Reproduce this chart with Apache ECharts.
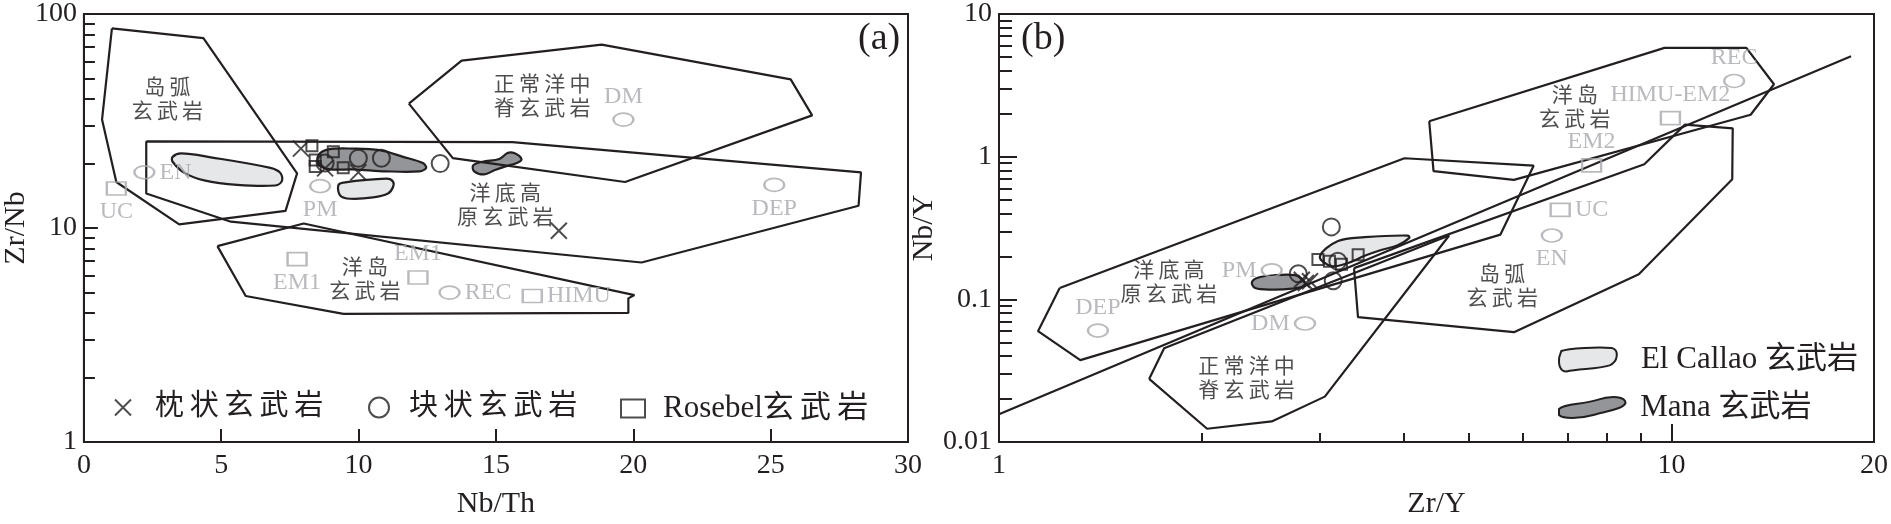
<!DOCTYPE html>
<html><head><meta charset="utf-8">
<script src="https://cdn.jsdelivr.net/npm/echarts@6/dist/echarts.min.js"></script>
<style>html,body{margin:0;padding:0;background:#fff}#c{width:1891px;height:524px}</style>
</head><body><div id="c"></div>
<script>
// ---------- Panel (a): Nb/Th vs Zr/Nb ----------
const A_ISLAND_ARC = [[1.02,85.6],[4.35,77.1],[7.76,18.0],[7.34,12.03],[3.47,10.4],[1.18,16.4],[0.66,32.1]];
const A_OPB = [[2.27,25.4],[15.6,25.2],[28.29,18.2],[28.2,12.7],[20.3,6.9],[5.35,10.7],[2.27,14.5]];
const A_NMORB = [[11.83,38.1],[13.75,60.5],[18.85,71.9],[25.73,49.5],[26.51,33.6],[19.70,16.4],[13.43,21.2]];
const A_OIB = [[4.86,8.23],[8.0,10.5],[20.04,4.86],[19.82,4.69],[19.82,4.01],[9.45,3.97],[5.89,4.81]];
const A_ELCALLAO_1 = [[3.23,21.5],[3.54,22.3],[4.62,21.4],[6.79,19.1],[7.15,18.1],[7.21,16.6],[6.97,15.8],[5.58,15.9],[4.38,16.7],[3.66,18.1],[3.23,20.4]];
const A_ELCALLAO_2 = [[9.26,15.8],[9.45,16.3],[11.01,17.0],[11.25,16.5],[11.25,15.5],[11.07,14.5],[10.53,13.9],[9.69,13.7],[9.33,14.2]];
const A_MANA_1 = [[8.54,21.9],[8.90,23.3],[9.81,23.5],[10.77,23.1],[11.62,21.5],[12.34,20.1],[12.46,19.1],[12.22,18.4],[11.01,18.4],[9.81,18.8],[8.96,18.8],[8.54,19.8]];
const A_MANA_2 = [[14.17,19.6],[14.51,20.4],[15.12,21.0],[15.42,22.4],[15.66,22.4],[15.93,21.0],[15.78,20.2],[15.35,19.4],[14.94,18.6],[14.57,17.8],[14.21,18.4]];
const A_PILLOW = [[7.9,23.5],[8.78,19.0],[9.99,18.2],[17.29,9.7]];
const A_MASSIVE = [[8.78,20.1],[9.99,21.2],[10.83,21.2],[12.97,20.0]];
const A_ROSEBEL = [[8.30,24.2],[8.42,20.8],[8.42,19.4],[9.08,22.7],[9.44,19.1]];
const A_REF_CIRCLE_NAMES = ['EN','PM','DM','DEP','REC'];
const A_REF_CIRCLE = [[2.2,18.2],[8.6,15.7],[19.64,32.1],[25.13,15.9],[13.31,4.99]];
const A_REF_SQUARE_NAMES = ['UC','EM1','EM1','HIMU'];
const A_REF_SQUARE = [[1.18,15.3],[7.76,7.15],[12.16,5.87],[16.32,4.81]];
const A_FIELD_NAMES = ['岛弧\n玄武岩','正常洋中\n脊玄武岩','洋底高\n原玄武岩','洋岛\n玄武岩'];
const A_FIELD_POS = [[3.04,39.6],[16.68,40.9],[15.34,12.6],[10.23,5.68]];
const A_X_LABELS = [0,5,10,15,20,25,30];
const A_Y_LABELS = [1,10,100];

// ---------- Panel (b): Zr/Y vs Nb/Y ----------
const B_OPB = [[1.231,0.1199],[4.007,0.975],[6.237,0.865],[5.567,0.2844],[1.321,0.0375],[1.143,0.0598]];
const B_OIB = [[4.362,1.772],[9.761,5.793],[12.92,5.793],[14.20,3.218],[13.11,1.966],[5.828,0.6875],[4.427,0.791]];
const B_IAB = [[3.372,0.1655],[9.11,0.885],[10.47,1.677],[12.33,1.58],[12.31,0.695],[8.94,0.150],[5.83,0.0589],[3.418,0.0751]];
const B_NMORB = [[1.672,0.02768],[1.760,0.0454],[4.67,0.280],[3.051,0.0208],[2.544,0.01394],[2.039,0.01238]];
const B_LINE = [[1,0.01565],[18.49,5.06]];
const B_ELCALLAO = [[3.0,0.1996],[3.192,0.2562],[3.497,0.2727],[4.052,0.280],[4.075,0.2698],[3.916,0.2395],[3.70,0.2216],[3.497,0.2018],[3.304,0.1798],[3.12,0.1708]];
const B_MANA = [[2.377,0.1316],[2.431,0.1423],[2.574,0.1477],[2.755,0.1477],[2.818,0.1388],[2.851,0.125],[2.724,0.1187],[2.544,0.1169],[2.404,0.1199]];
const B_PILLOW = [[2.82,0.137],[2.86,0.130],[2.90,0.134]];
const B_MASSIVE = [[2.786,0.151],[3.19,0.185],[3.14,0.135],[3.12,0.322]];
const B_ROSEBEL = [[2.98,0.190],[3.10,0.185],[3.42,0.205],[3.23,0.176]];
const B_REF_CIRCLE_NAMES = ['REC','EN','PM','DEP','DM'];
const B_REF_CIRCLE = [[12.39,3.395],[6.637,0.280],[2.544,0.1597],[1.403,0.0604],[2.851,0.0677]];
const B_REF_SQUARE_NAMES = ['HIMU-EM2','EM2','UC'];
const B_REF_SQUARE = [[9.96,1.865],[7.606,0.8687],[6.83,0.4239]];
const B_FIELD_NAMES = ['洋岛\n玄武岩','岛弧\n玄武岩','洋底高\n原玄武岩','正常洋中\n脊玄武岩'];
const B_FIELD_POS = [[7.18,2.17],[5.60,0.1212],[1.789,0.129],[2.334,0.02755]];
const B_X_LABELS = [1,10,20];
const B_Y_LABELS = [0.01,0.1,1,10];

// ---------- styles ----------
const INK = '#231f20', GREY = '#a7a9ac', LIGHT = '#e6e7e8', DARK = '#939598';
const FONT = "'Liberation Serif','Noto Sans CJK SC',serif";
const LABEL_POS = {
  a: {EN:'right',PM:'bottom',DM:'top',DEP:'bottom',REC:'right',UC:'bottom',HIMU:'right'},
  b: {REC:'top',EN:'bottom',PM:'left',DEP:'top',DM:'left','HIMU-EM2':'top',EM2:'top',UC:'right'}
};
const minorLog = (lo, hi) => { const r=[]; for(let d=lo; d<hi*0.999; d*=10) for(let k=2;k<=9;k++) r.push(+(d*k).toPrecision(3)); return r; };
const fmt = v => String(+(+v).toPrecision(3));
// spread CJK characters a little, as in the original typesetting
const spread = s => s.replace(/([\u4e00-\u9fff])(?=[\u4e00-\u9fff])/g, '$1\u2009');

function outline(pts, xi, yi) {
  return {type:'line', xAxisIndex:xi, yAxisIndex:yi, data:pts.concat([pts[0]]), symbol:'none', silent:true,
    lineStyle:{color:INK, width:2.2}, z:3, animation:false};
}
function blob(name, pts, xi, yi, fill) {
  return {type:'custom', name, xAxisIndex:xi, yAxisIndex:yi, data:[pts[0]], silent:true, clip:false, z:2,
    itemStyle:{color:fill, borderColor:INK, borderWidth:2},
    renderItem:(p, api) => ({type:'polygon', shape:{points:pts.map(q=>api.coord(q)), smooth:0.35},
      style:{fill, stroke:INK, lineWidth:2.2}}), animation:false};
}
function pts(name, data, xi, yi, symbol, size) {
  return {type:'scatter', name, xAxisIndex:xi, yAxisIndex:yi, data, symbol, symbolSize:size, z:5,
    itemStyle:{color:'transparent', borderColor:INK, borderWidth:2}, animation:false};
}
function refs(names, data, xi, yi, symbol, size, panel) {
  return {type:'scatter', xAxisIndex:xi, yAxisIndex:yi, symbol, symbolSize:size, z:4, silent:true,
    itemStyle:{color:'transparent', borderColor:GREY, borderWidth:2},
    data: data.map((d,i)=>({value:d, name:names[i], label:{position:(LABEL_POS[panel][names[i]]||'top')}})),
    label:{show:true, formatter:p=>p.name, color:GREY, fontFamily:FONT, fontSize:24, distance:4}, animation:false};
}
function fields(names, pos, xi, yi) {
  return {type:'scatter', xAxisIndex:xi, yAxisIndex:yi, symbolSize:0, silent:true, z:4,
    data:pos.map((d,i)=>({value:d, name:names[i]})),
    label:{show:true, position:'inside', formatter:p=>spread(p.name), color:INK, fontFamily:FONT, fontSize:21, lineHeight:24, align:'center'}, animation:false};
}
// EM1 left label goes below, right one above
function fixEM1(s){ s.data[1].label.position='bottom'; s.data[2].label.position='top'; return s; }

const CROSS = 'path://M0,0L10,10M10,0L0,10';
const axisBase = {axisLine:{show:true, lineStyle:{color:INK, width:2}}, splitLine:{show:false}};
const labelStyle = {color:INK, fontFamily:FONT, fontSize:28};
const hiddenBase = {axisLine:{show:false}, splitLine:{show:false}, axisLabel:{show:false}};
const legendText = {color:INK, fontFamily:FONT, fontSize:29};

const option = {
  backgroundColor:'#fff',
  animation:false,
  grid:[
    {left:79, top:9, width:829, height:443, show:true, borderColor:INK, borderWidth:2},
    {left:999, top:9, width:880, height:443, show:true, borderColor:INK, borderWidth:2}
  ],
  xAxis:[
    Object.assign({gridIndex:0, type:'value', position:'bottom', min:0, max:30, interval:5, name:'Nb/Th', nameLocation:'middle', nameGap:47,
      nameTextStyle:{color:INK, fontFamily:FONT, fontSize:30},
      axisTick:{inside:true, length:13, lineStyle:{color:INK, width:2}, customValues:[5,10,15,20,25]},
      axisLabel:Object.assign({margin:10, customValues:A_X_LABELS}, labelStyle)}, axisBase),
    Object.assign({gridIndex:1, type:'log', position:'bottom', logBase:10, min:1, max:20, name:'Zr/Y', nameLocation:'middle', nameGap:47,
      nameTextStyle:{color:INK, fontFamily:FONT, fontSize:30},
      axisTick:{inside:true, length:18, lineStyle:{color:INK, width:2}, customValues:[10]},
      axisLabel:Object.assign({margin:10, customValues:B_X_LABELS, formatter:fmt}, labelStyle)}, axisBase),
    Object.assign({gridIndex:1, type:'log', position:'bottom', logBase:10, min:1, max:20,
      axisTick:{inside:true, length:9, lineStyle:{color:INK, width:2}, customValues:minorLog(1,10)}}, hiddenBase)
  ],
  yAxis:[
    Object.assign({gridIndex:0, type:'log', position:'left', logBase:10, min:1, max:100, name:'Zr/Nb', nameLocation:'middle', nameGap:50,
      nameTextStyle:{color:INK, fontFamily:FONT, fontSize:30},
      axisTick:{inside:true, length:14, lineStyle:{color:INK, width:2}, customValues:[10]},
      axisLabel:Object.assign({margin:7, customValues:A_Y_LABELS, formatter:fmt}, labelStyle)}, axisBase),
    Object.assign({gridIndex:0, type:'log', position:'left', logBase:10, min:1, max:100,
      axisTick:{inside:true, length:11, lineStyle:{color:INK, width:2}, customValues:minorLog(1,100)}}, hiddenBase),
    Object.assign({gridIndex:1, type:'log', position:'left', logBase:10, min:0.01, max:10, name:'Nb/Y', nameLocation:'middle', nameGap:30,
      nameTextStyle:{color:INK, fontFamily:FONT, fontSize:30},
      axisTick:{inside:true, length:18, lineStyle:{color:INK, width:2}, customValues:[0.1,1]},
      axisLabel:Object.assign({margin:7, customValues:B_Y_LABELS, formatter:fmt}, labelStyle)}, axisBase),
    Object.assign({gridIndex:1, type:'log', position:'left', logBase:10, min:0.01, max:10,
      axisTick:{inside:true, length:13, lineStyle:{color:INK, width:2}, customValues:minorLog(0.01,10)}}, hiddenBase)
  ],
  legend:[
    {left:114, top:393, padding:0, itemWidth:16, itemHeight:16, formatter:spread, data:[{name:'枕状玄武岩', icon:CROSS, itemStyle:{color:'transparent', borderColor:INK, borderWidth:2}}],
      textStyle:Object.assign({padding:[0,0,0,19]}, legendText), selectedMode:false},
    {left:368, top:393, padding:0, itemWidth:20, itemHeight:20, formatter:spread, data:[{name:'块状玄武岩', icon:'circle', itemStyle:{color:'transparent', borderColor:INK, borderWidth:2}}],
      textStyle:Object.assign({padding:[0,0,0,15]}, legendText), selectedMode:false},
    {left:620, top:393, padding:0, itemWidth:24, itemHeight:18, formatter:spread, data:[{name:'Rosebel玄武岩', icon:'rect', itemStyle:{color:'transparent', borderColor:INK, borderWidth:2}}],
      textStyle:Object.assign({padding:[0,0,0,13]}, legendText, {fontSize:31}), selectedMode:false},
    {left:1558, top:344, padding:0, itemWidth:58, itemHeight:24, selectedMode:false,
      data:[{name:'El Callao 玄武岩', icon:'path://M3,4C10,1 40,0 52,1C60,3 58,15 50,18C38,22 20,21 8,24C2,24 0,18 1,10Z', itemStyle:{color:LIGHT, borderColor:INK, borderWidth:2}}],
      textStyle:Object.assign({padding:[0,0,0,19]}, legendText, {fontSize:31})},
    {left:1558, top:392, padding:0, itemWidth:68, itemHeight:21, selectedMode:false,
      data:[{name:'Mana 玄武岩', icon:'path://M2,14C8,8 25,10 40,5C55,0 68,2 68,8C66,14 50,16 36,20C22,24 6,24 2,20Z', itemStyle:{color:DARK, borderColor:INK, borderWidth:2}}],
      textStyle:Object.assign({padding:[0,0,0,9]}, legendText, {fontSize:31})}
  ],
  graphic:[
    {type:'text', left:858, top:20, style:{text:'(a)', fill:INK, font:"38px 'Liberation Serif'"}},
    {type:'text', left:1021, top:20, style:{text:'(b)', fill:INK, font:"38px 'Liberation Serif'"}}
  ],
  series:[
    // panel a
    blob('El Callao 玄武岩', A_ELCALLAO_1, 0, 0, LIGHT),
    blob('El Callao 玄武岩', A_ELCALLAO_2, 0, 0, LIGHT),
    blob('Mana 玄武岩', A_MANA_1, 0, 0, DARK),
    blob('Mana 玄武岩', A_MANA_2, 0, 0, DARK),
    outline(A_ISLAND_ARC,0,0), outline(A_OPB,0,0), outline(A_NMORB,0,0), outline(A_OIB,0,0),
    refs(A_REF_CIRCLE_NAMES, A_REF_CIRCLE, 0, 0, 'circle', [20,13], 'a'),
    fixEM1(refs(A_REF_SQUARE_NAMES, A_REF_SQUARE, 0, 0, 'rect', [19,13], 'a')),
    fields(A_FIELD_NAMES, A_FIELD_POS, 0, 0),
    pts('枕状玄武岩', A_PILLOW, 0, 0, CROSS, 16),
    pts('块状玄武岩', A_MASSIVE, 0, 0, 'circle', 17),
    pts('Rosebel玄武岩', A_ROSEBEL, 0, 0, 'rect', 11),
    // panel b
    blob('El Callao 玄武岩', B_ELCALLAO, 1, 2, LIGHT),
    blob('Mana 玄武岩', B_MANA, 1, 2, DARK),
    outline(B_OPB,1,2), outline(B_OIB,1,2), outline(B_IAB,1,2), outline(B_NMORB,1,2),
    {type:'line', xAxisIndex:1, yAxisIndex:2, data:B_LINE, symbol:'none', silent:true, lineStyle:{color:INK, width:2.2}, z:3},
    refs(B_REF_CIRCLE_NAMES, B_REF_CIRCLE, 1, 2, 'circle', [20,13], 'b'),
    refs(B_REF_SQUARE_NAMES, B_REF_SQUARE, 1, 2, 'rect', [19,13], 'b'),
    fields(B_FIELD_NAMES, B_FIELD_POS, 1, 2),
    pts('枕状玄武岩', B_PILLOW, 1, 2, CROSS, 16),
    pts('块状玄武岩', B_MASSIVE, 1, 2, 'circle', 17),
    pts('Rosebel玄武岩', B_ROSEBEL, 1, 2, 'rect', 11)
  ]
};
const chart = echarts.init(document.getElementById('c'), null, {renderer:'canvas'});
chart.setOption(option);
</script></body></html>
